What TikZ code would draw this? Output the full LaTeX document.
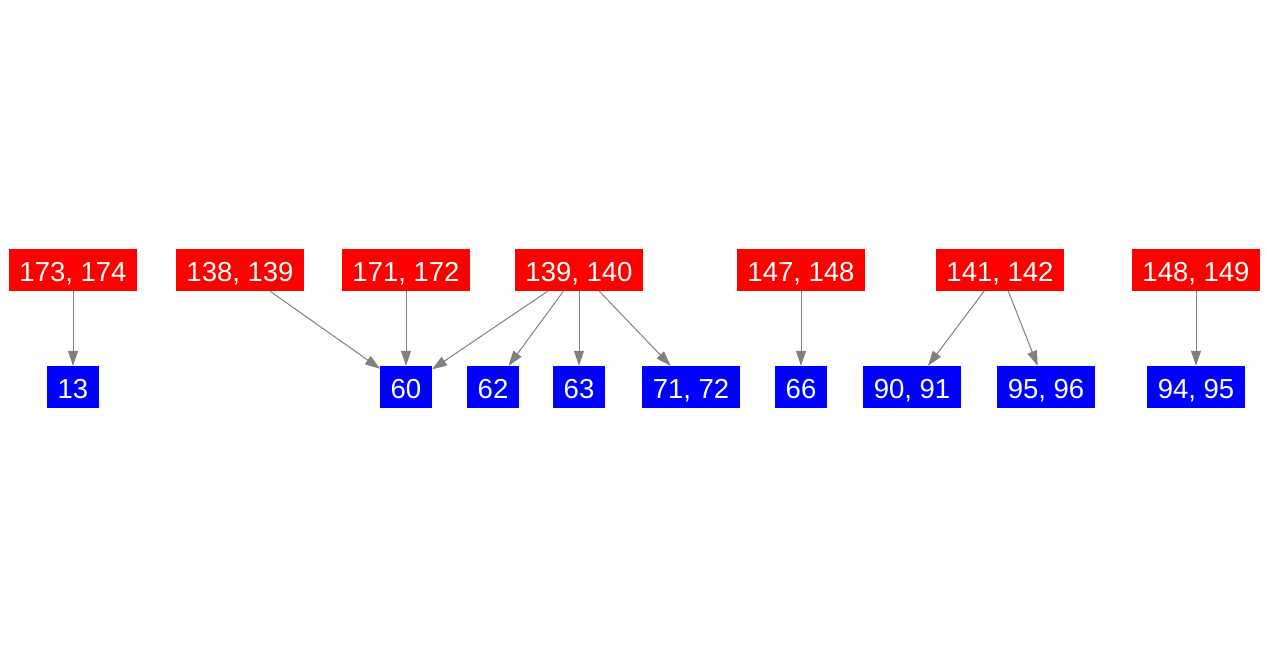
\documentclass[tikz,border=0pt]{standalone}
\usepackage{fontspec}
\setmainfont{Liberation Sans}
\usetikzlibrary{arrows.meta}
\begin{document}
\begin{tikzpicture}[x=1pt,y=-1pt,
  box/.style={inner xsep=10.5pt, inner ysep=0pt, minimum height=42pt, text=white,
    text height=23.5pt, text depth=0pt,
    font=\fontsize{27.5}{30}\selectfont, anchor=center},
  rnode/.style={box, fill=red},
  bnode/.style={box, fill=blue},
  edge/.style={draw={rgb,255:red,128;green,128;blue,128}, line width=1pt,
    -{Triangle[length=15pt,width=10pt]}}]
\useasboundingbox (0,0) rectangle (1267,656);
\node[rnode] (r1) at (73,270) {173, 174};
\node[rnode] (r2) at (240,270) {138, 139};
\node[rnode] (r3) at (406,270) {171, 172};
\node[rnode] (r4) at (579,270) {139, 140};
\node[rnode] (r5) at (801,270) {147, 148};
\node[rnode] (r6) at (1000,270) {141, 142};
\node[rnode] (r7) at (1196,270) {148, 149};
\node[bnode] (b13) at (73,387) {13};
\node[bnode] (b60) at (406,387) {60};
\node[bnode] (b62) at (493,387) {62};
\node[bnode] (b63) at (579,387) {63};
\node[bnode] (b71) at (691,387) {71, 72};
\node[bnode] (b66) at (801,387) {66};
\node[bnode] (b90) at (912,387) {90, 91};
\node[bnode] (b95) at (1046,387) {95, 96};
\node[bnode] (b94) at (1196,387) {94, 95};
\draw[edge] (r1) -- (b13);
\draw[edge] (r2) -- (b60);
\draw[edge] (r3) -- (b60);
\draw[edge] (r4) -- (b60);
\draw[edge] (r4) -- (b62);
\draw[edge] (r4) -- (b63);
\draw[edge] (r4) -- (b71);
\draw[edge] (r5) -- (b66);
\draw[edge] (r6) -- (b90);
\draw[edge] (r6) -- (b95);
\draw[edge] (r7) -- (b94);
\end{tikzpicture}
\end{document}
